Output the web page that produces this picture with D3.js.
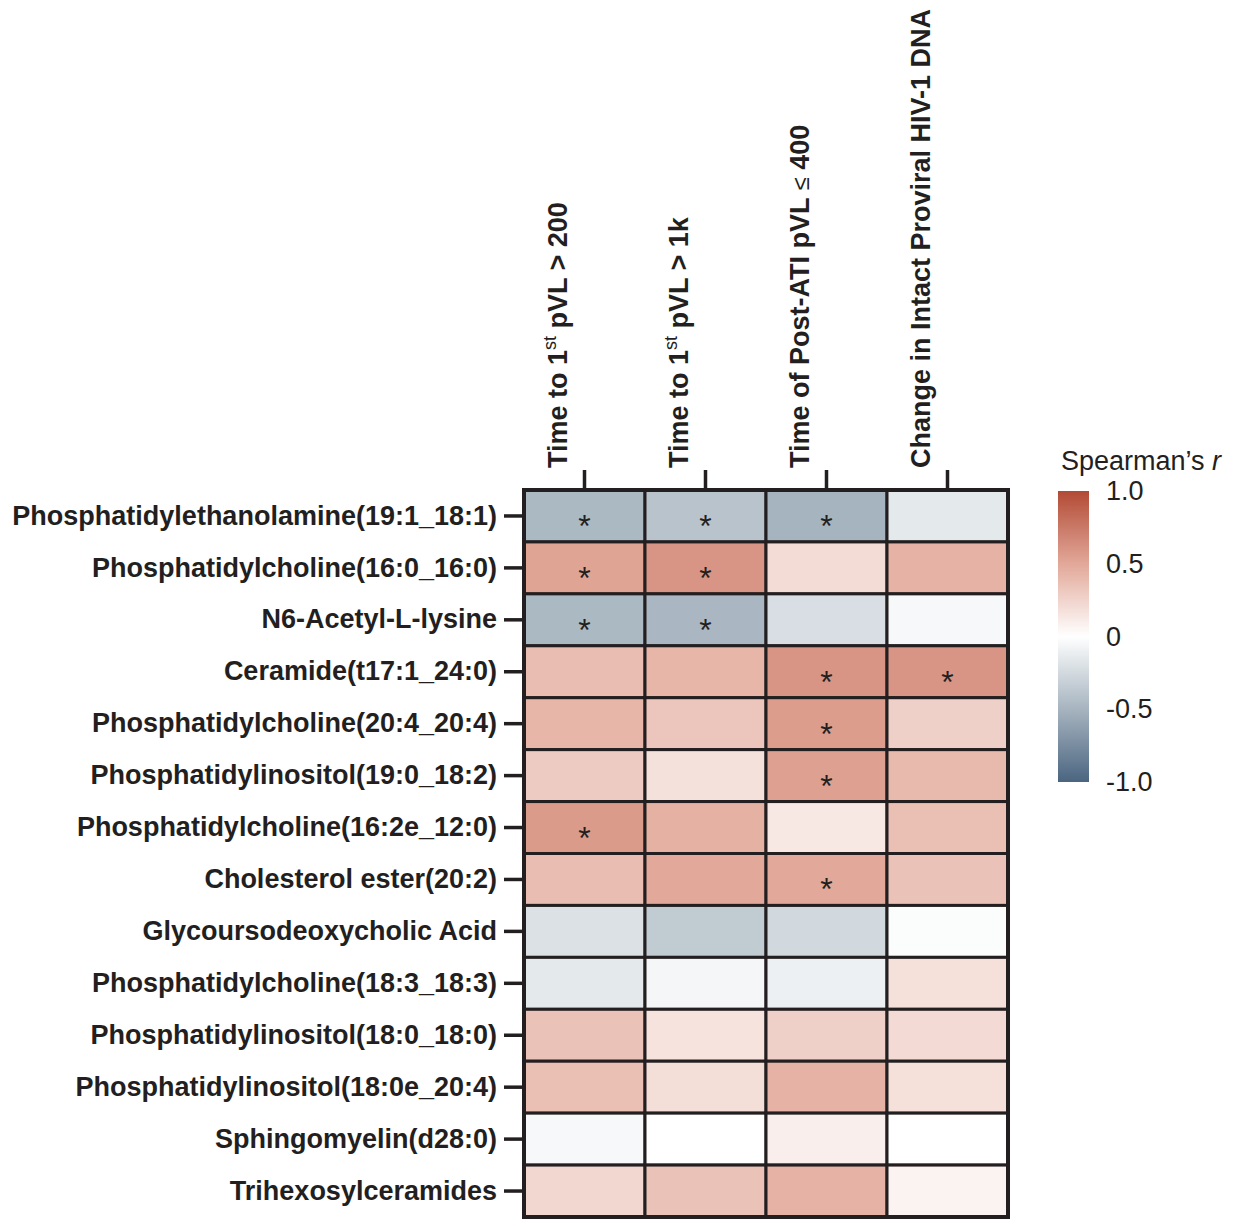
<!DOCTYPE html>
<html>
<head>
<meta charset="utf-8">
<script src="https://cdn.jsdelivr.net/npm/d3@7"></script>
<style>
  body { margin: 0; background: #fff; }
  text { font-family: "Liberation Sans", Arial, sans-serif; fill: #231f20; }
</style>
</head>
<body>
<svg width="1236" height="1226"></svg>
<script>
// metabolites (rows, top to bottom)
var rows = [
  "Phosphatidylethanolamine(19:1_18:1)",
  "Phosphatidylcholine(16:0_16:0)",
  "N6-Acetyl-L-lysine",
  "Ceramide(t17:1_24:0)",
  "Phosphatidylcholine(20:4_20:4)",
  "Phosphatidylinositol(19:0_18:2)",
  "Phosphatidylcholine(16:2e_12:0)",
  "Cholesterol ester(20:2)",
  "Glycoursodeoxycholic Acid",
  "Phosphatidylcholine(18:3_18:3)",
  "Phosphatidylinositol(18:0_18:0)",
  "Phosphatidylinositol(18:0e_20:4)",
  "Sphingomyelin(d28:0)",
  "Trihexosylceramides"
];

// outcomes (columns)
var cols = ["c200", "c1k", "c400", "cDNA"];

// Spearman's r per column, same order as rows
var c200 = [-0.47,  0.52, -0.47, 0.38, 0.42, 0.30, 0.57, 0.38, -0.20, -0.15, 0.35, 0.37, -0.05, 0.23];
var c1k  = [-0.40,  0.60, -0.48, 0.42, 0.33, 0.17, 0.45, 0.50, -0.35, -0.06, 0.16, 0.19,  0.00, 0.35];
var c400 = [-0.50,  0.20, -0.22, 0.60, 0.56, 0.54, 0.13, 0.50, -0.26, -0.10, 0.27, 0.44,  0.10, 0.44];
var cDNA = [-0.15,  0.44, -0.05, 0.60, 0.27, 0.40, 0.37, 0.35, -0.02,  0.18, 0.21, 0.18,  0.00, 0.07];

// significance (1 = asterisk)
var sig200 = [1, 1, 1, 0, 0, 0, 1, 0, 0, 0, 0, 0, 0, 0];
var sig1k  = [1, 1, 1, 0, 0, 0, 0, 0, 0, 0, 0, 0, 0, 0];
var sig400 = [1, 0, 0, 1, 1, 1, 0, 1, 0, 0, 0, 0, 0, 0];
var sigDNA = [0, 0, 0, 1, 0, 0, 0, 0, 0, 0, 0, 0, 0, 0];

var legendTicks = [1, 0.5, 0, -0.5, -1];
var legendLabels = ["1.0", "0.5", "0", "-0.5", "-1.0"];

var values = {c200: c200, c1k: c1k, c400: c400, cDNA: cDNA};
var sigs = {c200: sig200, c1k: sig1k, c400: sig400, cDNA: sigDNA};

var svg = d3.select("svg"),
    ink = "#231f20";

var x = d3.scaleBand().domain(cols).range([524, 1008]),
    y = d3.scaleBand().domain(rows).range([490, 1217]);

var color = d3.scaleLinear()
    .domain([-1, -0.5, 0, 0.5, 1])
    .range(["#4b6580", "#a6b4bf", "#ffffff", "#e2a899", "#b24a35"])
    .clamp(true);

var cells = [];
cols.forEach(function(c) {
  rows.forEach(function(r, i) {
    cells.push({col: c, row: r, v: values[c][i], s: sigs[c][i]});
  });
});

var g = svg.append("g");

g.selectAll(".cell")
  .data(cells)
  .enter().append("rect")
    .attr("class", "cell")
    .attr("x", function(d) { return x(d.col); })
    .attr("y", function(d) { return y(d.row); })
    .attr("width", x.bandwidth())
    .attr("height", y.bandwidth())
    .attr("fill", function(d) { return color(d.v); })
    .attr("stroke", ink)
    .attr("stroke-width", 3);

g.selectAll(".star")
  .data(cells.filter(function(d) { return d.s; }))
  .enter().append("text")
    .attr("class", "star")
    .attr("x", function(d) { return x(d.col) + x.bandwidth() / 2; })
    .attr("y", function(d) { return y(d.row) + y.bandwidth() / 2 + 21; })
    .attr("text-anchor", "middle")
    .style("font-size", "32px")
    .text("*");

// outer frame
g.append("rect")
    .attr("x", 524).attr("y", 490)
    .attr("width", 1008 - 524).attr("height", 1217 - 490)
    .attr("fill", "none")
    .attr("stroke", ink)
    .attr("stroke-width", 4);

// row axis
var yAxis = svg.append("g")
    .attr("transform", "translate(522,0)")
    .call(d3.axisLeft(y).tickSize(18).tickPadding(7));
yAxis.select(".domain").remove();
yAxis.selectAll("line").attr("stroke", ink).attr("stroke-width", 3.5);
yAxis.selectAll("text")
    .style("font-size", "27px")
    .style("font-weight", "bold")
    .attr("fill", ink);

// column axis
var xAxis = svg.append("g")
    .attr("transform", "translate(0,488)")
    .call(d3.axisTop(x).tickSize(18).tickFormat(""));
xAxis.select(".domain").remove();
xAxis.selectAll("line").attr("stroke", ink).attr("stroke-width", 3.5);

var colLabels = {
  c200: [["Time to 1", "b"], ["st", "sup"], [" pVL > 200", "b"]],
  c1k:  [["Time to 1", "b"], ["st", "sup"], [" pVL > 1k", "b"]],
  c400: [["Time of Post-ATI pVL ", "b"], ["\u2264", "n"], [" 400", "b"]],
  cDNA: [["Change in Intact Proviral HIV-1 DNA", "b"]]
};

cols.forEach(function(c) {
  var t = svg.append("text")
      .attr("transform", "translate(" + (x(c) + x.bandwidth() / 2 - 18) + ",468) rotate(-90)")
      .style("font-size", "27px");
  colLabels[c].forEach(function(p) {
    var ts = t.append("tspan").text(p[0]);
    if (p[1] === "b") ts.style("font-weight", "bold");
    if (p[1] === "n") ts.style("font-weight", "normal").style("font-size", "24px");
    if (p[1] === "sup") ts.style("font-size", "18px").attr("dy", -11);
    if (p[1] === "b" && p[0].charAt(0) === " " && c !== "c400") ts.attr("dy", 11);
  });
});

// legend
var defs = svg.append("defs");
var grad = defs.append("linearGradient")
    .attr("id", "grad")
    .attr("x1", 0).attr("y1", 1).attr("x2", 0).attr("y2", 0);
d3.range(0, 1.0001, 0.05).forEach(function(t) {
  grad.append("stop")
      .attr("offset", t)
      .attr("stop-color", color(-1 + 2 * t));
});

var ly = d3.scaleLinear().domain([-1, 1]).range([782, 491]);

svg.append("rect")
    .attr("x", 1058).attr("y", ly(1))
    .attr("width", 31).attr("height", ly(-1) - ly(1))
    .attr("fill", "url(#grad)");

var lAxis = svg.append("g")
    .attr("transform", "translate(1100,0)")
    .call(d3.axisRight(ly).tickValues(legendTicks).tickSize(0).tickPadding(6)
      .tickFormat(function(d, i) { return legendLabels[i]; }));
lAxis.select(".domain").remove();
lAxis.selectAll("text")
    .style("font-size", "27px")
    .attr("fill", ink);

var title = svg.append("text")
    .attr("x", 1061)
    .attr("y", 470)
    .style("font-size", "27px");
title.append("tspan").text("Spearman\u2019s ");
title.append("tspan").style("font-style", "italic").text("r");
</script>
</body>
</html>
